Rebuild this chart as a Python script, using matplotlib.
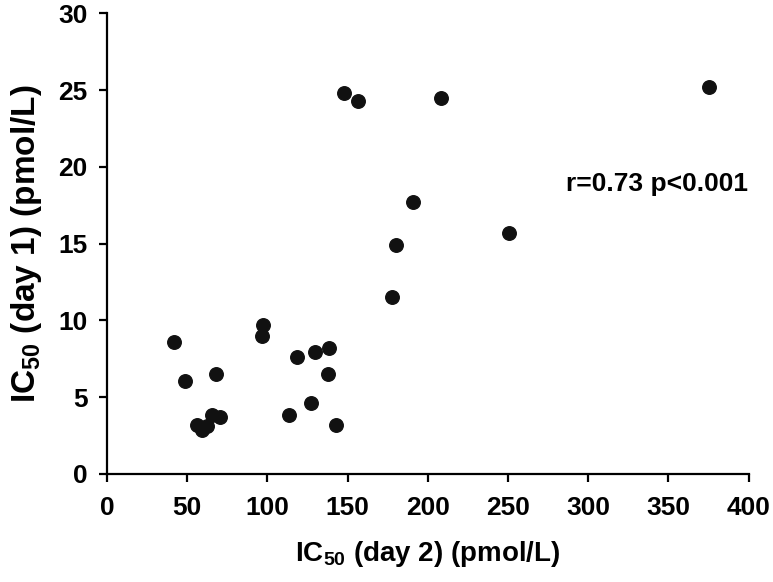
import numpy as np
import matplotlib
matplotlib.use('Agg')
import matplotlib.pyplot as plt

# IC50 day 2 (x) vs IC50 day 1 (y), pmol/L
ic50_day2 = [41.6, 48.7, 68.0, 56.1, 59.2, 62.4, 65.5, 70.6, 97.2, 96.8,
             118.4, 113.6, 129.8, 138.1, 137.7, 127.1, 142.7,
             147.6, 156.3, 208.0, 190.8, 180.0, 177.5, 250.5, 375.4]
ic50_day1 = [8.56, 6.07, 6.52, 3.15, 2.82, 3.09, 3.85, 3.70, 9.67, 9.00,
             7.63, 3.80, 7.96, 8.22, 6.50, 4.61, 3.20,
             24.79, 24.29, 24.50, 17.72, 14.90, 11.50, 15.70, 25.20]
xticks = [0, 50, 100, 150, 200, 250, 300, 350, 400]
yticks = [0, 5, 10, 15, 20, 25, 30]
stat_text = 'r=0.73 p<0.001'

plt.rcParams['font.family'] = ['Liberation Sans', 'DejaVu Sans']
plt.rcParams['font.weight'] = 'bold'
plt.rcParams['mathtext.fontset'] = 'custom'
plt.rcParams['mathtext.rm'] = 'Liberation Sans:bold'
plt.rcParams['mathtext.bf'] = 'Liberation Sans:bold'

fig = plt.figure(figsize=(7.73, 5.82), dpi=100)
ax = fig.add_axes([0.1385, 0.186, 0.830, 0.791])

ax.scatter(ic50_day2, ic50_day1, s=95, color='#111111', zorder=3)

ax.set_xlim(0, 400)
ax.set_ylim(0, 30)
ax.set_xticks(xticks)
ax.set_yticks(yticks)
ax.tick_params(labelsize=19, width=1.6, length=6, direction='out')
ax.tick_params(axis='x', pad=10)
ax.tick_params(axis='y', pad=8)
for lab in ax.get_xticklabels() + ax.get_yticklabels():
    lab.set_fontweight('bold')
for s in ['top', 'right']:
    ax.spines[s].set_visible(False)
for s in ['left', 'bottom']:
    ax.spines[s].set_linewidth(1.6)

ax.set_xlabel(r'IC$_{\mathregular{50}}$ (day 2) (pmol/L)', fontsize=20, fontweight='bold', labelpad=14)
ax.set_ylabel(r'IC$_{\mathregular{50}}$ (day 1) (pmol/L)', fontsize=24, fontweight='bold', labelpad=10)

ax.text(286, 18.9, stat_text, fontsize=19, fontweight='bold', ha='left', va='center')

fig.savefig('out.png', dpi=100)
